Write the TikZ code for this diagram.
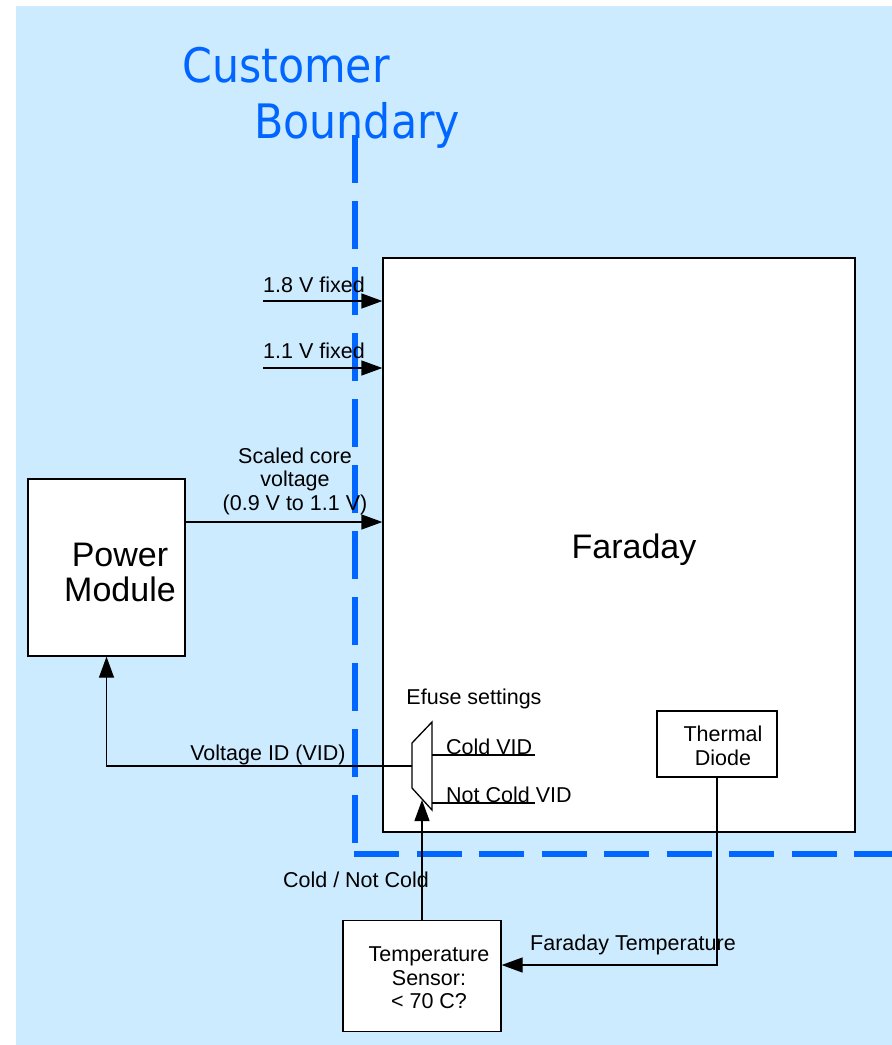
\documentclass[tikz,border=0pt]{standalone}
\usepackage{fontspec}
\setmainfont{Liberation Sans}
\newfontfamily\titlefont[FakeStretch=0.9]{DejaVu Sans}
\usepackage{tikz}
\usetikzlibrary{arrows.meta, calc, positioning}
\usepackage{xcolor}

\definecolor{skyback}{HTML}{CCEBFF}
\definecolor{bndblue}{HTML}{0066FF}

\tikzset{
  block/.style={draw, fill=white, line width=1.3pt, inner sep=0pt},
  wire/.style={line width=1.3pt},
  sig/.style={wire, -{Triangle[length=21pt, width=15pt]}},
  lbl/.style={font=\fontsize{21.5}{23.5}\selectfont, inner sep=0pt, align=center},
  bigtext/.style={font=\fontsize{34}{35}\selectfont, inner sep=0pt, align=center},
  titletext/.style={bndblue, anchor=base west, inner sep=0pt, font=\titlefont\fontsize{47.5}{50}\selectfont},
}

\begin{document}
\begin{tikzpicture}[x=1pt, y=-1pt]
  % page and background
  \useasboundingbox (0,0) rectangle (892,1045);
  \fill[skyback] (16,6) rectangle (892,1045);

  % customer boundary
  \draw[bndblue, line width=5.5pt, dash pattern=on 48pt off 18pt] (355,135) -- (355,845);
  \draw[bndblue, line width=5.5pt, dash pattern=on 45pt off 17.5pt] (354,854) -- (892,854);
  \node[titletext] (cust) at (182,82) {Customer};
  \node[titletext] (bound) at (254,138) {Boundary};

  % blocks
  \node[block, minimum width=472pt, minimum height=574pt] (far) at (619,545) {};
  \node[bigtext] (fartext) at (634,550) {Faraday};
  \node[block, minimum width=157pt, minimum height=177pt] (pm) at (106.5,567.5) {};
  \node[bigtext] (pmtext) at (120,572) {Power\\Module};
  \node[block, minimum width=158pt, minimum height=111pt] (ts) at (422,976) {};
  \node[lbl] (tstext) at (429,978) {Temperature\\Sensor:\\{<} 70 C?};
  \node[block, minimum width=120pt, minimum height=66pt] (td) at (717,744) {};
  \node[lbl] (tdtext) at (723,746) {Thermal\\Diode};

  % efuse mux
  \coordinate (mux-l) at (412,766);
  \coordinate (mux-b) at (422,800);
  \draw[block] (412,743) -- (432,722) -- (432,810) -- (412,788) -- cycle;
  \node[lbl] (efuse) at (474,699) {Efuse settings};
  \draw[wire] (432,755) -- (535,755);
  \draw[wire] (432,803) -- (535,803);
  \node[lbl, anchor=west] (cold) at (446,747) {Cold VID};
  \node[lbl, anchor=west] (notcold) at (446,795) {Not Cold VID};

  % supply inputs
  \coordinate (in18) at (263,301);
  \coordinate (in11) at (263,368);
  \draw[sig] (in18) -- (in18 -| far.west);
  \draw[sig] (in11) -- (in11 -| far.west);
  \node[lbl, anchor=west] (l18) at (263,285) {1.8 V fixed};
  \node[lbl, anchor=west] (l11) at (263,351) {1.1 V fixed};

  % scaled core voltage
  \coordinate (core) at (185,522);
  \draw[sig] (core) -- (core -| far.west);
  \node[lbl] (lcore) at (295,481) {Scaled core\\voltage\\(0.9 V to 1.1 V)};

  % voltage id back to the power module
  \draw[sig] (mux-l) -| (pm.south);
  \node[lbl] (lvid) at (268,755) {Voltage ID (VID)};

  % cold / not cold select
  \draw[sig] (ts.north) -- (mux-b);
  \node[lbl] (lsel) at (356,880) {Cold / Not Cold};

  % diode temperature to sensor
  \draw[sig] (td.south) |- ($(ts.east)+(0,-11)$);
  \node[lbl] (ltemp) at (633,945) {Faraday Temperature};
\end{tikzpicture}
\end{document}
